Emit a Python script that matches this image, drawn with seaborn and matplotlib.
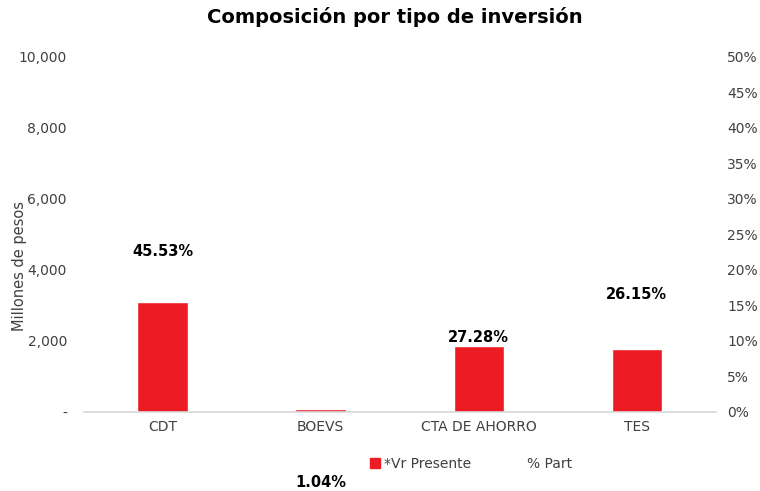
import numpy as np
import pandas as pd
import matplotlib
matplotlib.use('Agg')
import matplotlib.pyplot as plt
import seaborn as sns
from matplotlib.patches import Patch
from matplotlib.lines import Line2D

# datos
categorias = ['CDT', 'BOEVS', 'CTA DE AHORRO', 'TES']
valores = [3100, 71, 1857, 1780]          # millones de pesos
participacion = [45.53, 1.04, 27.28, 26.15]  # % Part
# posicion vertical de las etiquetas (eje izquierdo), como quedaron en el original
etiqueta_y = [4510, -2000, 2110, 3300]

left_ticks = [0, 2000, 4000, 6000, 8000, 10000]
right_ticks = [0, 5, 10, 15, 20, 25, 30, 35, 40, 45, 50]

sns.set_theme(style='white')
plt.rcParams['font.family'] = ['DejaVu Sans']

ROJO = '#ED1C24'
GRIS = '#404040'

df = pd.DataFrame({'tipo': categorias, 'valor': valores})

fig = plt.figure(figsize=(7.6, 4.91), dpi=100)
ax = fig.add_axes([0.110, 0.161, 0.832, 0.723])

sns.barplot(data=df, x='tipo', y='valor', color=ROJO, width=0.32,
            saturation=1, ax=ax)
ax.set_ylim(0, 10000)
ax.set_xlim(-0.5, 3.5)
ax.set_yticks(left_ticks)
ax.set_yticklabels(['-'] + [f'{v:,}' for v in left_ticks[1:]])
ax.tick_params(axis='both', length=0, labelsize=10, colors=GRIS)
ax.tick_params(axis='y', pad=12)
ax.tick_params(axis='x', pad=6)
ax.set_xlabel('')
ax.set_ylabel('Millones de pesos', fontsize=10.5, color=GRIS)
ax.yaxis.set_label_coords(-0.09, 0.41)
for s in ['top', 'right', 'left']:
    ax.spines[s].set_visible(False)
ax.spines['bottom'].set_color('#D9D9D9')
ax.spines['bottom'].set_linewidth(1.2)

# eje secundario
ax2 = ax.twinx()
ax2.set_ylim(0, 50)
ax2.set_yticks(right_ticks)
ax2.set_yticklabels([f'{v}%' for v in right_ticks])
ax2.tick_params(axis='y', length=0, labelsize=10, colors=GRIS, pad=8)
for s in ax2.spines.values():
    s.set_visible(False)
ax2.grid(False)

# etiquetas de participacion
for i, (p, yy) in enumerate(zip(participacion, etiqueta_y)):
    ax.text(i, yy, f'{p:.2f}%', ha='center', va='center', fontsize=10.5,
            fontweight='bold', color='black', clip_on=False)

fig.suptitle('Composición por tipo de inversión', fontsize=14, fontweight='bold',
             x=0.52, y=0.985, color='black')

handles = [Patch(facecolor=ROJO, edgecolor=ROJO),
           Line2D([], [], color='none')]
fig.legend(handles, ['*Vr Presente', '% Part'], loc='center',
           bbox_to_anchor=(0.62, 0.055), ncol=2, frameon=False, fontsize=10,
           handlelength=0.7, handleheight=0.7, handletextpad=0.3, columnspacing=3.0,
           labelcolor=GRIS)

fig.savefig('out.png', dpi=100)
